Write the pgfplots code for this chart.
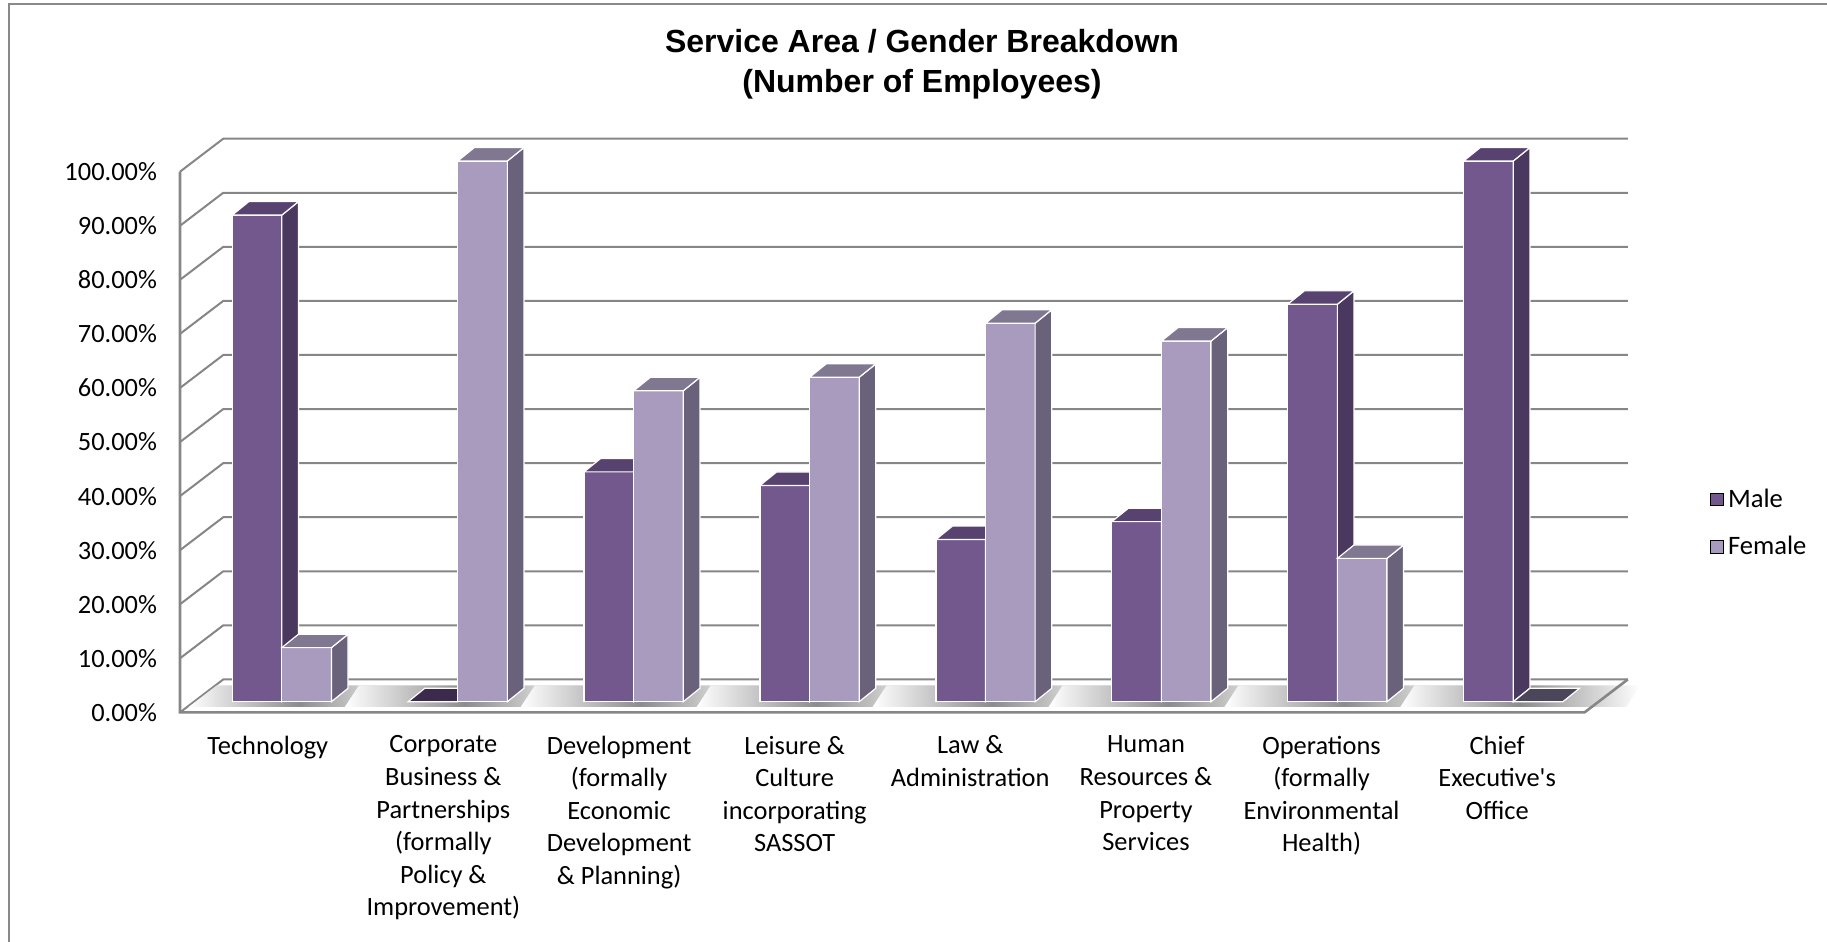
\documentclass[border=0pt]{standalone}
\usepackage{fontspec}
\setmainfont{Carlito}
\newfontfamily\titlefont{Liberation Sans}
\usepackage{pgfplots}
\usepackage{pgfplotstable}
\pgfplotsset{compat=1.18}

\definecolor{malefront}{RGB}{115,88,142}
\definecolor{maleside}{RGB}{74,56,94}
\definecolor{maletop}{RGB}{88,66,112}
\definecolor{malezero}{RGB}{60,42,76}
\definecolor{femalefront}{RGB}{169,155,190}
\definecolor{femaleside}{RGB}{106,98,122}
\definecolor{femaletop}{RGB}{128,119,145}
\definecolor{femalezero}{RGB}{76,70,90}
\definecolor{gridgray}{RGB}{134,134,134}
\definecolor{framegray}{RGB}{137,137,137}
\definecolor{shadowgray}{RGB}{140,140,140}

% share of employees (percent) per service area
\pgfplotstableread{
idx male female
0 90.0 10.0
1 0.0 100.0
2 42.5 57.5
3 40.0 60.0
4 30.0 70.0
5 33.3 66.7
6 73.5 26.5
7 100.0 0.0
}\gendertable

% #1 left x, #2 value, #3 front, #4 side, #5 top, #6 colour of a zero bar
\newcommand\threedbar[6]{%
  \pgfmathsetmacro\xa{#1}%
  \pgfmathsetmacro\xb{#1+0.282}%
  \pgfmathsetmacro\xc{#1+0.282+0.0944}%
  \pgfmathsetmacro\xd{#1+0.0944}%
  \pgfmathsetmacro\ya{1.98}%
  \pgfmathsetmacro\yb{1.98+#2}%
  \pgfmathsetmacro\yc{1.98+#2+2.48}%
  \pgfmathsetmacro\yd{1.98+2.48}%
  \ifdim #2pt<0.05pt
    \edef\tmp{\noexpand\addplot[forget plot, fill=#6, draw=white, line width=0.6pt]
      coordinates {(\xa,\ya) (\xb,\ya) (\xc,\yd) (\xd,\yd)} -- cycle;}%
  \else
    \edef\tmp{%
      \noexpand\addplot[forget plot, fill=#3, draw=white, line width=0.6pt]
        coordinates {(\xa,\ya) (\xb,\ya) (\xb,\yb) (\xa,\yb)} -- cycle;
      \noexpand\addplot[forget plot, fill=#4, draw=white, line width=0.6pt]
        coordinates {(\xb,\ya) (\xc,\yd) (\xc,\yc) (\xb,\yb)} -- cycle;
      \noexpand\addplot[forget plot, fill=#5, draw=white, line width=0.6pt]
        coordinates {(\xa,\yb) (\xb,\yb) (\xc,\yc) (\xd,\yc)} -- cycle;}%
  \fi
  \tmp
}
\newcommand\floorshadow[1]{%
  \pgfmathsetmacro\sa{max(#1-0.282-0.36,-0.53)}%
  \pgfmathsetmacro\sb{#1+0.282+0.36}%
  \pgfmathsetmacro\sc{#1+0.282+0.44}%
  \pgfmathsetmacro\sd{max(#1-0.282-0.28,-0.37)}%
  \edef\tmp{\noexpand\addplot[forget plot, draw=none, left color=white, right color=white, middle color=shadowgray]
    coordinates {(\sa,1.0) (\sb,1.0) (\sc,5.0) (\sd,5.0)} -- cycle;}%
  \tmp
}

\begin{document}
\begin{tikzpicture}
\path[use as bounding box] (0,0) rectangle (913.5pt,471pt);
\begin{axis}[
  at={(90pt,114.8pt)}, anchor=south west,
  scale only axis, width=723.9pt, height=286.85pt,
  xmin=-0.579, xmax=7.651, ymin=0, ymax=106.1,
  clip=false, no markers,
  axis line style={draw=none}, major tick length=0pt,
  ytick={0,10,20,30,40,50,60,70,80,90,100},
  yticklabels={0.00\%,10.00\%,20.00\%,30.00\%,40.00\%,50.00\%,60.00\%,70.00\%,80.00\%,90.00\%,100.00\%},
  yticklabel style={font=\fontsize{13.2}{16}\selectfont, anchor=east, xshift=-8pt},
  xtick={-0.080,0.918,1.917,2.915,3.913,4.912,5.910,6.908},
  xticklabels={
    {Technology},
    {Corporate\\Business \&\\Partnerships\\(formally\\Policy \&\\Improvement)},
    {Development\\(formally\\Economic\\Development\\\& Planning)},
    {Leisure \&\\Culture\\incorporating\\SASSOT},
    {Law \&\\Administration},
    {Human\\Resources \&\\Property\\Services},
    {Operations\\(formally\\Environmental\\Health)},
    {Chief\\Executive\textquotesingle s\\Office}},
  xticklabel style={font=\fontsize{13.2}{16.3}\selectfont, align=center, anchor=north, yshift=-8.2pt},
  legend cell align=left,
  legend style={at={(1.0568,0.33)}, anchor=west, draw=none, fill=none, inner sep=0pt,
    row sep=9pt, font=\fontsize{13.3}{16}\selectfont},
  legend image code/.code={\fill[#1] (0pt,-3.2pt) rectangle (6.4pt,3.2pt);},
]
% walls: left-wall diagonals and back-wall gridlines
\addplot[forget plot, gridgray, line width=1pt] coordinates {(-0.579,0) (-0.333,6.1) (7.651,6.1)};
\addplot[forget plot, gridgray, line width=1pt] coordinates {(-0.579,10) (-0.333,16.1) (7.651,16.1)};
\addplot[forget plot, gridgray, line width=1pt] coordinates {(-0.579,20) (-0.333,26.1) (7.651,26.1)};
\addplot[forget plot, gridgray, line width=1pt] coordinates {(-0.579,30) (-0.333,36.1) (7.651,36.1)};
\addplot[forget plot, gridgray, line width=1pt] coordinates {(-0.579,40) (-0.333,46.1) (7.651,46.1)};
\addplot[forget plot, gridgray, line width=1pt] coordinates {(-0.579,50) (-0.333,56.1) (7.651,56.1)};
\addplot[forget plot, gridgray, line width=1pt] coordinates {(-0.579,60) (-0.333,66.1) (7.651,66.1)};
\addplot[forget plot, gridgray, line width=1pt] coordinates {(-0.579,70) (-0.333,76.1) (7.651,76.1)};
\addplot[forget plot, gridgray, line width=1pt] coordinates {(-0.579,80) (-0.333,86.1) (7.651,86.1)};
\addplot[forget plot, gridgray, line width=1pt] coordinates {(-0.579,90) (-0.333,96.1) (7.651,96.1)};
\addplot[forget plot, gridgray, line width=1pt] coordinates {(-0.579,100) (-0.333,106.1) (7.651,106.1)};
% shadows on the floor
\pgfplotsinvokeforeach{0,...,7}{\floorshadow{#1}}
% front axis line and floor
\addplot[forget plot, gridgray, line width=1.3pt, line join=miter] coordinates {(-0.579,100) (-0.579,0) (7.405,0) (7.651,6.1)};
% bars
\pgfplotsinvokeforeach{0,...,7}{%
  \pgfplotstablegetelem{#1}{male}\of\gendertable
  \let\mv\pgfplotsretval
  \pgfplotstablegetelem{#1}{female}\of\gendertable
  \let\fv\pgfplotsretval
  \threedbar{#1-0.282}{\mv}{malefront}{maleside}{maletop}{malezero}
  \threedbar{#1}{\fv}{femalefront}{femaleside}{femaletop}{femalezero}
}
\addlegendimage{fill=malefront}
\addlegendentry{Male}
\addlegendimage{fill=femalefront}
\addlegendentry{Female}
\end{axis}
\node[align=center, font=\titlefont\bfseries\fontsize{16}{20}\selectfont] at (461pt,439pt)
  {Service Area / Gender Breakdown\\(Number of Employees)};
\draw[framegray, line width=1pt] (4.5pt,0pt) -- (4.5pt,468.9pt) -- (913.5pt,468.9pt);
\end{tikzpicture}
\end{document}
